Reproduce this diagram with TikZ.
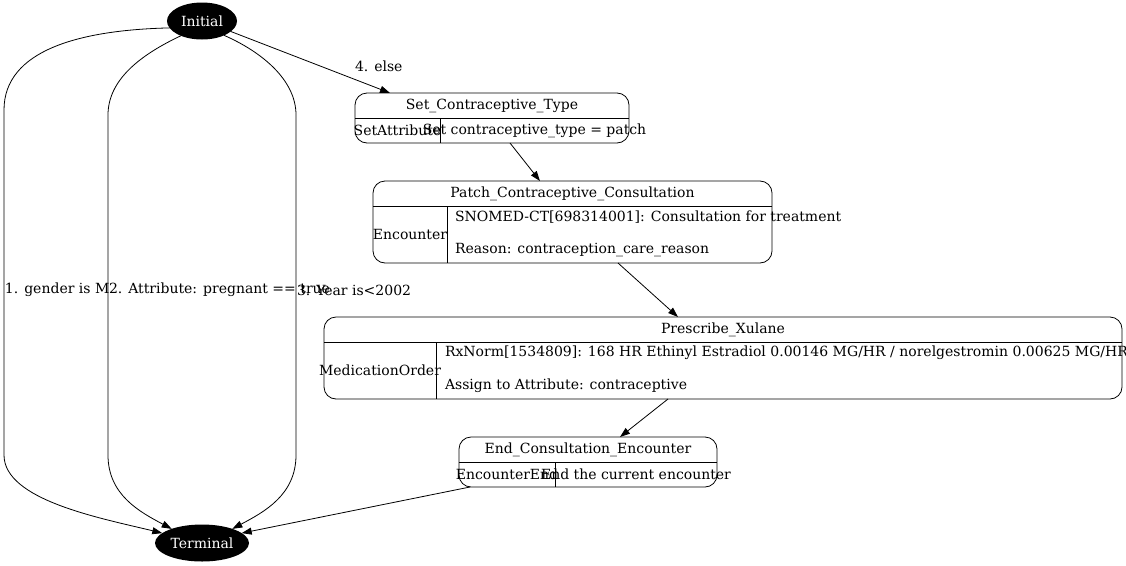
\documentclass[tikz,border=0pt]{standalone}
\usepackage{fontspec}
\setmainfont{DejaVu Serif}
\usetikzlibrary{shapes.geometric,arrows.meta,calc}
\begin{document}
\begin{tikzpicture}[x=1pt,y=-1pt,
  every node/.style={font=\fontsize{14}{16.5}\selectfont, inner sep=0pt, outer sep=0pt},
  state/.style={ellipse, fill=black, text=white, minimum height=37},
  rec/.style={draw, rectangle, rounded corners=12pt, line width=0.8pt},
  div/.style={line width=0.8pt},
  conn/.style={draw, line width=0.8pt, -{Triangle[length=10pt,width=7pt]}},
  lbl/.style={anchor=west}]
\useasboundingbox (0,0) rectangle (1126,565);

% start / end states
\node[state, minimum width=70] (init) at (202,21) {Initial};
\node[state, minimum width=94] (term) at (202,543) {Terminal};

% Set_Contraceptive_Type
\node[rec, minimum width=274, minimum height=50] (set) at (492,118) {};
\draw[div] ($(set.north west)+(0,25)$) -- ($(set.north east)+(0,25)$);
\draw[div] ($(set.north west)+(85,25)$) -- ($(set.south west)+(85,0)$);
\node (setT) at ($(set.north)+(0,12.5)$) {Set\_Contraceptive\_Type};
\node (setL) at ($(set.south west)+(42.5,-12.5)$) {SetAttribute};
\node (setR) at ($(set.south west)+(179.5,-12.5)$) {Set contraceptive\_type = patch};

% Patch_Contraceptive_Consultation
\node[rec, minimum width=399, minimum height=82] (patch) at (572.5,222) {};
\draw[div] ($(patch.north west)+(0,25)$) -- ($(patch.north east)+(0,25)$);
\draw[div] ($(patch.north west)+(74,25)$) -- ($(patch.south west)+(74,0)$);
\node (patchT) at ($(patch.north)+(0,12.5)$) {Patch\_Contraceptive\_Consultation};
\node (patchL) at ($(patch.south west)+(37,-28.5)$) {Encounter};
\node[lbl] (patchR1) at ($(patch.north west)+(82,36)$) {SNOMED-CT[698314001]: Consultation for treatment};
\node[lbl] (patchR2) at ($(patch.north west)+(82,69)$) {Reason: contraception\_care\_reason};

% Prescribe_Xulane
\node[rec, minimum width=798, minimum height=82] (presc) at (723,358) {};
\draw[div] ($(presc.north west)+(0,25)$) -- ($(presc.north east)+(0,25)$);
\draw[div] ($(presc.north west)+(112,25)$) -- ($(presc.south west)+(112,0)$);
\node (prescT) at ($(presc.north)+(0,12.5)$) {Prescribe\_Xulane};
\node (prescL) at ($(presc.south west)+(56,-28.5)$) {MedicationOrder};
\node[lbl] (prescR1) at ($(presc.north west)+(121,36)$) {RxNorm[1534809]: 168 HR Ethinyl Estradiol 0.00146 MG/HR / norelgestromin 0.00625 MG/HR};
\node[lbl] (prescR2) at ($(presc.north west)+(121,69)$) {Assign to Attribute: contraceptive};

% End_Consultation_Encounter
\node[rec, minimum width=258, minimum height=50] (endc) at (588,462) {};
\draw[div] ($(endc.north west)+(0,25)$) -- ($(endc.north east)+(0,25)$);
\draw[div] ($(endc.north west)+(96,25)$) -- ($(endc.south west)+(96,0)$);
\node (endT) at ($(endc.north)+(0,12.5)$) {End\_Consultation\_Encounter};
\node (endL) at ($(endc.south west)+(48,-12.5)$) {EncounterEnd};
\node (endR) at ($(endc.south west)+(177,-12.5)$) {End the current encounter};

% connectors
\draw[conn] (init.192) .. controls (80,30) and (4,50) .. (4,110) -- (4,455)
  .. controls (4,500) and (100,518) .. (term.166);
\draw[conn] (init.215) .. controls (140,55) and (108,80) .. (108,115) -- (108,455)
  .. controls (108,495) and (140,512) .. (term.155);
\draw[conn] (init.327) .. controls (262,52) and (296,80) .. (296,115) -- (296,455)
  .. controls (296,495) and (264,512) .. (term.25);
\draw[conn] (init.340) -- ($(set.north west)+(35,0)$);
\draw[conn] ($(set.south west)+(155,0)$) -- ($(patch.north west)+(167,0)$);
\draw[conn] ($(patch.south west)+(245,0)$) -- ($(presc.north west)+(354,0)$);
\draw[conn] ($(presc.south west)+(344,0)$) -- ($(endc.north west)+(161,0)$);
\draw[conn] ($(endc.south west)+(11,0)$) -- (term.14);

% edge labels
\node[lbl] (l1) at (5,290) {1. gender is M};
\node[lbl] (l2) at (109,290) {2. Attribute: pregnant == true};
\node[lbl] (l3) at (297,290) {3. Year is<2002};
\node[lbl] (l4) at (355,66) {4. else};
\end{tikzpicture}
\end{document}
